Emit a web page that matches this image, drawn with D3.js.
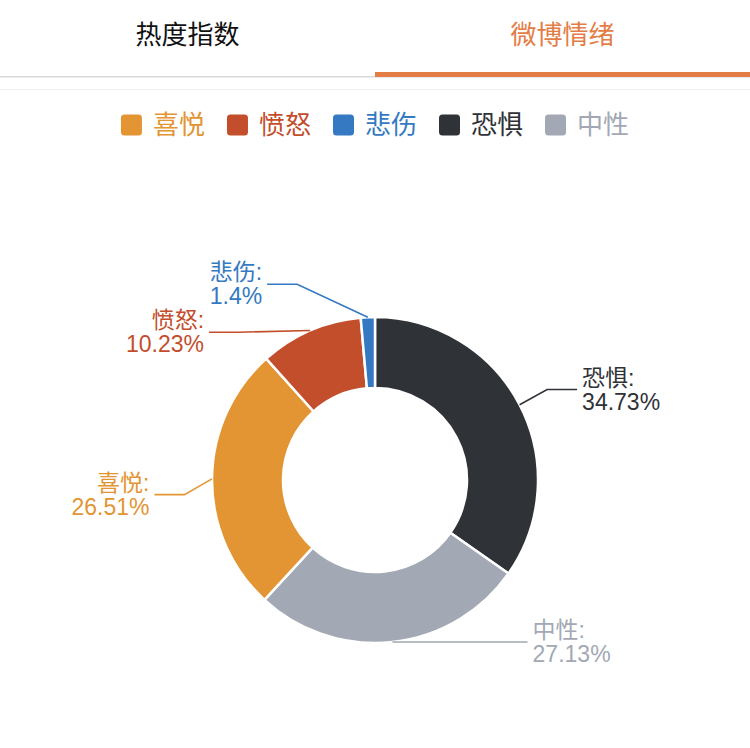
<!DOCTYPE html>
<html>
<head>
<meta charset="utf-8">
<script src="https://cdn.jsdelivr.net/npm/d3@7"></script>
<style>
  html, body { margin: 0; padding: 0; background: #fff; }
  svg { display: block; font-family: "Liberation Sans", "Noto Sans CJK SC", sans-serif; }
</style>
</head>
<body>
<script>
const width = 750, height = 748;

// tabs
const tabNames = ["热度指数", "微博情绪"];
const activeTab = 1;

// legend order
const legendNames = ["喜悦", "愤怒", "悲伤", "恐惧", "中性"];

// slice order (clockwise from 12 o'clock)
const sliceNames = ["恐惧", "中性", "喜悦", "愤怒", "悲伤"];
const sliceValues = [34.73, 27.13, 26.51, 10.23, 1.4];

const colors = {
    "喜悦": "#e39533",
    "愤怒": "#c34e2c",
    "悲伤": "#3479c1",
    "恐惧": "#2f3237",
    "中性": "#a2a8b4"
};

const orange = "#e47c45";

const svg = d3.select("body").append("svg")
    .attr("width", width)
    .attr("height", height);

svg.append("rect").attr("width", width).attr("height", height).attr("fill", "#fff");

// ---- tabs ----
const tabX = d3.scaleBand().domain(tabNames).range([0, width]);

svg.append("g").selectAll("text")
    .data(tabNames)
    .enter().append("text")
    .attr("x", d => tabX(d) + tabX.bandwidth() / 2)
    .attr("y", 35)
    .attr("text-anchor", "middle")
    .attr("dominant-baseline", "central")
    .attr("font-size", 26)
    .attr("fill", (d, i) => i === activeTab ? orange : "#111")
    .text(d => d);

svg.append("line")
    .attr("x1", 0).attr("x2", width)
    .attr("y1", 76.8).attr("y2", 76.8)
    .attr("stroke", "#d9d9d9").attr("stroke-width", 1.5);

svg.append("rect")
    .attr("x", tabX(tabNames[activeTab]))
    .attr("y", 72)
    .attr("width", tabX.bandwidth())
    .attr("height", 5)
    .attr("fill", orange);

svg.append("line")
    .attr("x1", 0).attr("x2", width)
    .attr("y1", 89.5).attr("y2", 89.5)
    .attr("stroke", "#f0f0f0").attr("stroke-width", 1);

// ---- legend ----
const legendSize = 21, legendTextGap = 11, legendGap = 22, legendFont = 26, legendY = 125;

const legend = svg.append("g");
const legendItems = legend.selectAll("g")
    .data(legendNames)
    .enter().append("g");

legendItems.append("rect")
    .attr("width", legendSize)
    .attr("height", legendSize)
    .attr("y", -legendSize / 2)
    .attr("rx", 3.5)
    .attr("fill", d => colors[d]);

legendItems.append("text")
    .attr("x", legendSize + legendTextGap)
    .attr("dominant-baseline", "central")
    .attr("font-size", legendFont)
    .attr("fill", d => colors[d])
    .text(d => d);

let lx = 0;
const offsets = [];
legendItems.each(function () {
    const tw = d3.select(this).select("text").node().getComputedTextLength();
    offsets.push(lx);
    lx += legendSize + legendTextGap + tw + legendGap;
});
const legendWidth = lx - legendGap;
legendItems.attr("transform", (d, i) => `translate(${offsets[i]},0)`);
legend.attr("transform", `translate(${(width - legendWidth) / 2},${legendY})`);

// ---- donut ----
const cx = 375, cy = 480, outerR = 163, innerR = 92;

const pie = d3.pie().sort(null).value(d => d.value);
const arcs = pie(sliceNames.map((n, i) => ({ name: n, value: sliceValues[i] })));
const arc = d3.arc().innerRadius(innerR).outerRadius(outerR);

const chart = svg.append("g").attr("transform", `translate(${cx},${cy})`);

chart.selectAll("path.slice")
    .data(arcs)
    .enter().append("path")
    .attr("class", "slice")
    .attr("d", arc)
    .attr("fill", d => colors[d.data.name])
    .attr("stroke", "#fff")
    .attr("stroke-width", 2.5)
    .attr("stroke-linejoin", "round");

// ---- labels (echarts-like outer label layout) ----
const len1 = 33, len2 = 30, labelDist = 5, labelH = 48, lineH = 24, labelFont = 23;
const labelBottom = 690;

const labels = arcs.map(d => {
    const a = (d.startAngle + d.endAngle) / 2;
    const dx = Math.sin(a), dy = -Math.cos(a);
    const dir = dx < 0 ? -1 : 1;
    return {
        d, dir,
        p0: [cx + outerR * dx, cy + outerR * dy],
        x: cx + (outerR + len1) * dx + dir * (len2 + labelDist),
        y: cy + (outerR + len1) * dy
    };
});

function adjustSide(list) {
    list.sort((a, b) => a.y - b.y);
    const n = list.length;
    function shiftUp(end, delta) {
        for (let j = end; j >= 0; j--) {
            list[j].y -= delta;
            if (j > 0 && list[j].y > list[j - 1].y + labelH) break;
        }
    }
    function shiftDown(start, end, delta) {
        for (let j = start; j < end; j++) {
            if (list[j].y + delta > labelBottom) break;
            list[j].y += delta;
            if (j > start && j + 1 < end && list[j + 1].y > list[j].y + labelH) {
                shiftUp(j, delta / 2);
                return;
            }
        }
        shiftUp(end - 1, delta / 2);
    }
    let lastY = 0;
    for (let i = 0; i < n; i++) {
        const delta = list[i].y - lastY;
        if (delta < 0) shiftDown(i, n, -delta);
        lastY = list[i].y + labelH;
    }
    if (labelBottom - lastY < 0) shiftUp(n - 1, lastY - labelBottom);

    const R = outerR + len1 + len2;
    function changeX(items, isDown) {
        let last = isDown ? Number.MAX_VALUE : 0;
        items.forEach(l => {
            const dyy = Math.abs(l.y - cy);
            let dxx = dyy < outerR + len1 ? Math.sqrt(R * R - dyy * dyy) : Math.abs(l.x - cx);
            if (isDown && dxx >= last) dxx = last - 10;
            if (!isDown && dxx <= last) dxx = last + 10;
            l.x = cx + dxx * l.dir;
            last = dxx;
        });
    }
    changeX(list.filter(l => l.y < cy), false);
    changeX(list.filter(l => l.y >= cy), true);
}

adjustSide(labels.filter(l => l.dir > 0));
adjustSide(labels.filter(l => l.dir < 0));

const labelG = svg.append("g");

labels.forEach(l => {
    const p2 = [l.x - l.dir * labelDist, l.y];
    const p1 = [p2[0] - l.dir * len2, l.y];
    const c = colors[l.d.data.name];

    labelG.append("path")
        .attr("d", d3.line()([l.p0, p1, p2]))
        .attr("fill", "none")
        .attr("stroke", c)
        .attr("stroke-width", 1.6);

    const t = labelG.append("text")
        .attr("x", l.x)
        .attr("y", l.y)
        .attr("text-anchor", l.dir < 0 ? "end" : "start")
        .attr("font-size", labelFont)
        .attr("fill", c);
    t.append("tspan")
        .attr("x", l.x)
        .attr("y", l.y - lineH / 2)
        .attr("dominant-baseline", "central")
        .text(l.d.data.name + ":");
    t.append("tspan")
        .attr("x", l.x)
        .attr("y", l.y + lineH / 2)
        .attr("dominant-baseline", "central")
        .text(l.d.data.value + "%");
});
</script>
</body>
</html>
